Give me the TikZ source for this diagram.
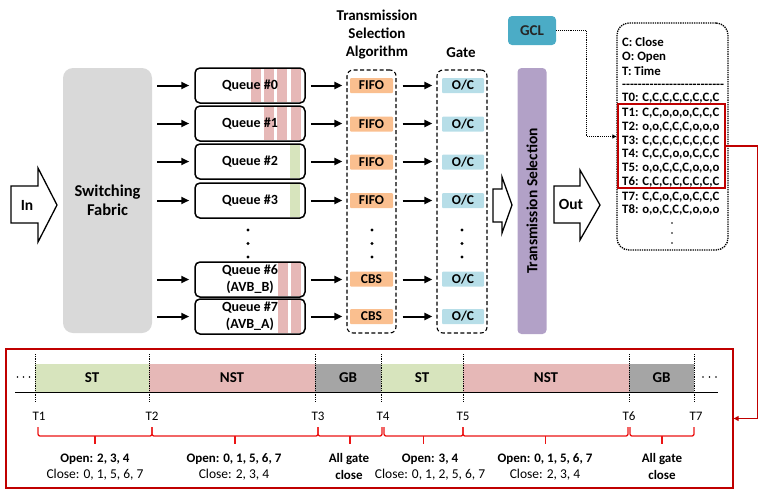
\documentclass[tikz,border=0pt]{standalone}
\usepackage{fontspec}
\setmainfont{Carlito}
\usetikzlibrary{arrows.meta,calc}
\definecolor{fabgray}{RGB}{217,217,217}
\definecolor{stripered}{RGB}{230,184,183}
\definecolor{stripegreen}{RGB}{215,228,189}
\definecolor{fifoorange}{RGB}{250,191,143}
\definecolor{ocblue}{RGB}{183,222,232}
\definecolor{tspurple}{RGB}{178,161,199}
\definecolor{gclteal}{RGB}{75,172,198}
\definecolor{gbgray}{RGB}{165,165,165}
\definecolor{darkred}{RGB}{192,0,0}
\definecolor{bracered}{RGB}{235,20,20}
\newcommand\fsz[2]{\fontsize{#1}{#2}\selectfont}
\begin{document}
\begin{tikzpicture}[x=1pt,y=-1pt,
  qbox/.style={draw, line width=1.5pt, rounded corners=5pt, minimum width=110pt, minimum height=35pt, inner sep=0pt, font=\fsz{14}{17}\bfseries, align=center},
  algbox/.style={fill=fifoorange, minimum width=43pt, minimum height=15pt, inner sep=0pt, rounded corners=1pt, font=\fsz{13.5}{13.5}\bfseries},
  ocbox/.style={fill=ocblue, minimum width=42pt, minimum height=15pt, inner sep=0pt, rounded corners=1pt, font=\fsz{13.5}{13.5}\bfseries},
  dbox/.style={draw, line width=1.1pt, dash pattern=on 4pt off 2.5pt, rounded corners=6pt, minimum height=263pt, inner sep=0pt},
  flow/.style={line width=2pt, -{Triangle[length=8pt,width=7pt]}},
  hollow/.style={draw, line width=1.3pt, fill=white, line join=miter},
  title/.style={font=\fsz{15}{18}\bfseries, align=center, inner sep=0pt},
  listtxt/.style={anchor=west, inner sep=0pt, font=\fsz{12.8}{12.8}\bfseries},
  bartxt/.style={font=\fsz{15}{15}\bfseries, inner sep=0pt},
  tlab/.style={font=\fsz{13}{13}, inner sep=0pt},
  opentxt/.style={font=\fsz{13}{13}\bfseries, inner sep=0pt},
  closetxt/.style={font=\fsz{13.5}{13.5}, inner sep=0pt},
  brc/.style={draw=bracered, line width=1.3pt, rounded corners=2pt},
  vdot/.style={densely dotted, line width=0.8pt},
]
\useasboundingbox (0,0) rectangle (764,499);

% In arrow
\draw[hollow] (11,186) -- (38,186) -- (38,168) -- (57,205) -- (38,242) -- (38,223) -- (11,223) -- cycle;
\node[font=\fsz{15.5}{15.5}\bfseries] (intext) at (27,205) {In};

% Switching fabric
\node[fill=fabgray, rounded corners=10pt, minimum width=89pt, minimum height=265pt, inner sep=0pt, font=\fsz{16.5}{19}\bfseries, align=center] (fabric) at (107.5,200.5) {Switching\\Fabric};

% stripes
\foreach \y in {85.5} {
  \foreach \a/\b in {251/260.5,264/273.5,277/287,291/300.5} \fill[stripered] (\a,\y-16.8) rectangle (\b,\y+16.8);
}
\foreach \y in {123.5} {
  \foreach \a/\b in {264/273.5,277/287,291/300.5} \fill[stripered] (\a,\y-16.8) rectangle (\b,\y+16.8);
}
\foreach \y in {161.5,200.5} {
  \fill[stripegreen] (290,\y-16.8) rectangle (300,\y+16.8);
}
\foreach \y in {279.5,316.5} {
  \foreach \a/\b in {278/288,291/300.5} \fill[stripered] (\a,\y-16.8) rectangle (\b,\y+16.8);
}

% queues
\node[qbox] (q0) at (250,85.5) {Queue \#0};
\node[qbox] (q1) at (250,123.5) {Queue \#1};
\node[qbox] (q2) at (250,161.5) {Queue \#2};
\node[qbox] (q3) at (250,200.5) {Queue \#3};
\node[qbox] (q6) at (250,279.5) {Queue \#6\\(AVB\_B)};
\node[qbox] (q7) at (250,316.5) {Queue \#7\\(AVB\_A)};
\foreach \y in {230,243.5,257} \fill (248,\y) circle (1.7pt);

% TSA and gate
\node[title] (tsatitle) at (377,35) {Transmission\\Selection\\Algorithm};
\node[title] (gatetitle) at (461,53) {Gate};
\node[dbox, minimum width=49pt] (tsa) at (371.5,201.5) {};
\node[dbox, minimum width=50pt] (gate) at (462,201.5) {};

\node[algbox] (a0) at (371.5,85.5) {FIFO};
\node[algbox] (a1) at (371.5,124) {FIFO};
\node[algbox] (a2) at (371.5,162) {FIFO};
\node[algbox] (a3) at (371.5,200.5) {FIFO};
\node[algbox] (a6) at (371.5,279) {CBS};
\node[algbox] (a7) at (371.5,316.5) {CBS};
\foreach \y in {230,243.5,257} \fill (372,\y) circle (1.7pt);

\node[ocbox] (g0) at (463,85.5) {O/C};
\node[ocbox] (g1) at (463,124) {O/C};
\node[ocbox] (g2) at (463,162) {O/C};
\node[ocbox] (g3) at (463,200.5) {O/C};
\node[ocbox] (g6) at (463,279) {O/C};
\node[ocbox] (g7) at (463,316.5) {O/C};
\foreach \y in {230,243.5,257} \fill (462,\y) circle (1.7pt);

\foreach \q in {q0,q1,q2,q3,q6,q7} {
  \draw[flow, shorten <=5pt, shorten >=5pt] (fabric.east |- \q) -- (\q.west);
  \draw[flow, shorten <=5pt, shorten >=4pt] (\q.east) -- (tsa.west |- \q);
  \draw[flow, shorten <=6pt, shorten >=4pt] (tsa.east |- \q) -- (gate.west |- \q);
}

% middle hollow arrow
\draw[hollow] (493,189) -- (502,189) -- (502,177) -- (512,205) -- (502,233) -- (502,222) -- (493,222) -- cycle;

% transmission selection
\node[fill=tspurple, rounded corners=4pt, minimum width=29pt, minimum height=266pt, inner sep=0pt] (ts) at (532,201) {};
\node[rotate=90, font=\fsz{15.5}{15.5}\bfseries, inner sep=0pt] (tstext) at (ts.center) {Transmission Selection};

% out arrow
\draw[hollow] (554,186) -- (580,186) -- (580,170) -- (600,205) -- (580,240) -- (580,223) -- (554,223) -- cycle;
\node[font=\fsz{15.5}{15.5}\bfseries] (outtext) at (571,204) {Out};

% GCL
\node[fill=gclteal, rounded corners=4pt, minimum width=48pt, minimum height=29pt, inner sep=0pt, font=\fsz{15}{15}\bfseries, text=black!85] (gcl) at (532,30.5) {GCL};

% GCL list
\node[draw, densely dotted, line width=1.3pt, rounded corners=12pt, minimum width=111pt, minimum height=227pt, inner sep=0pt] (list) at (672.5,136.5) {};
\draw[densely dotted, line width=0.9pt, -{Triangle[length=4pt,width=4pt]}] (gcl.east) -- ++(30,0) |- (list.west);

\node[listtxt] (l1) at (622,42) {C: Close};
\node[listtxt] (l2) at (622,57) {O: Open};
\node[listtxt] (l3) at (622,71) {T: Time};
\node[listtxt] (l4) at (622,86) {-{}-{}-{}-{}-{}-{}-{}-{}-{}-{}-{}-{}-{}-{}-{}-{}-{}-{}-{}-{}-{}-{}-{}-{}-{}-};
\node[listtxt] (t0) at (622,98) {T0: C,C,C,C,C,C,C,C};
\node[listtxt] (t1) at (622,113) {T1: C,C,o,o,o,C,C,C};
\node[listtxt] (t2) at (622,127) {T2: o,o,C,C,C,o,o,o};
\node[listtxt] (t3) at (622,141) {T3: C,C,C,C,C,C,C,C};
\node[listtxt] (t4) at (622,154.5) {T4: C,C,C,o,o,C,C,C};
\node[listtxt] (t5) at (622,168) {T5: o,o,C,C,C,o,o,o};
\node[listtxt] (t6) at (622,182) {T6: C,C,C,C,C,C,C,C};
\node[listtxt] (t7) at (622,197) {T7: C,C,o,C,o,C,C,C};
\node[listtxt] (t8) at (622,210) {T8: o,o,C,C,C,o,o,o};
\foreach \y in {223,233,243} \fill (672,\y) circle (0.9pt);

\node[draw=darkred, line width=1.3pt, minimum width=107pt, minimum height=84pt, inner sep=0pt] (hl) at (671.5,146) {};

% bottom frame
\node[draw=darkred, line width=1.3pt, minimum width=727pt, minimum height=139pt, inner sep=0pt] (frame) at (369.5,418.5) {};
\draw[darkred, line width=1.3pt, -{Triangle[length=5pt,width=5pt]}] (hl.east) -- ++(32,0) |- (frame.east);

% timeline bars
\fill[stripegreen] (35,364) rectangle (149,392);
\fill[stripered] (149,364) rectangle (315,392);
\fill[gbgray] (315,364) rectangle (381,392);
\fill[stripegreen] (381,364) rectangle (463,392);
\fill[stripered] (463,364) rectangle (629,392);
\fill[gbgray] (629,364) rectangle (694,392);
\node[bartxt] (b1) at (92,378) {ST};
\node[bartxt] (b2) at (232,378) {NST};
\node[bartxt] (b3) at (348,378) {GB};
\node[bartxt] (b4) at (422,378) {ST};
\node[bartxt] (b5) at (546,378) {NST};
\node[bartxt] (b6) at (661.5,378) {GB};
\draw[line width=1pt] (15,392) -- (718,392);
\foreach \x in {35,149,315,381,463,629,694} \draw[vdot] (\x,354) -- (\x,402);
\foreach \x in {17.5,23.5,29.5,703,709.5,716} \fill (\x,377) circle (0.8pt);

% time labels
\node[tlab] (T1) at (39,416) {T1};
\node[tlab] (T2) at (152,416) {T2};
\node[tlab] (T3) at (318,416) {T3};
\node[tlab] (T4) at (383,416) {T4};
\node[tlab] (T5) at (463,416) {T5};
\node[tlab] (T6) at (629,416) {T6};
\node[tlab] (T7) at (696,416) {T7};

% braces
\foreach \a/\b in {38/152,152/318,318/382,384/463,463/628,630/694} {
  \draw[brc] (\a,427) -- (\a,436) -- (\b,436) -- (\b,427);
  \draw[bracered, line width=1.3pt] ({(\a+\b)/2},436) -- ({(\a+\b)/2},444);
}

% descriptions
\node[opentxt] (o1) at (95,459) {Open: 2, 3, 4};
\node[closetxt] (c1) at (95,475) {Close: 0, 1, 5, 6, 7};
\node[opentxt] (o2) at (234,459) {Open: 0, 1, 5, 6, 7};
\node[closetxt] (c2) at (234,475) {Close: 2, 3, 4};
\node[opentxt] (o3) at (349,459) {All gate};
\node[opentxt] (c3) at (349,475) {close};
\node[opentxt] (o4) at (430,459) {Open: 3, 4};
\node[closetxt] (c4) at (430,475) {Close: 0, 1, 2, 5, 6, 7};
\node[opentxt] (o5) at (545,459) {Open: 0, 1, 5, 6, 7};
\node[closetxt] (c5) at (545,475) {Close: 2, 3, 4};
\node[opentxt] (o6) at (662,459) {All gate};
\node[opentxt] (c6) at (662,475) {close};
\end{tikzpicture}
\end{document}
